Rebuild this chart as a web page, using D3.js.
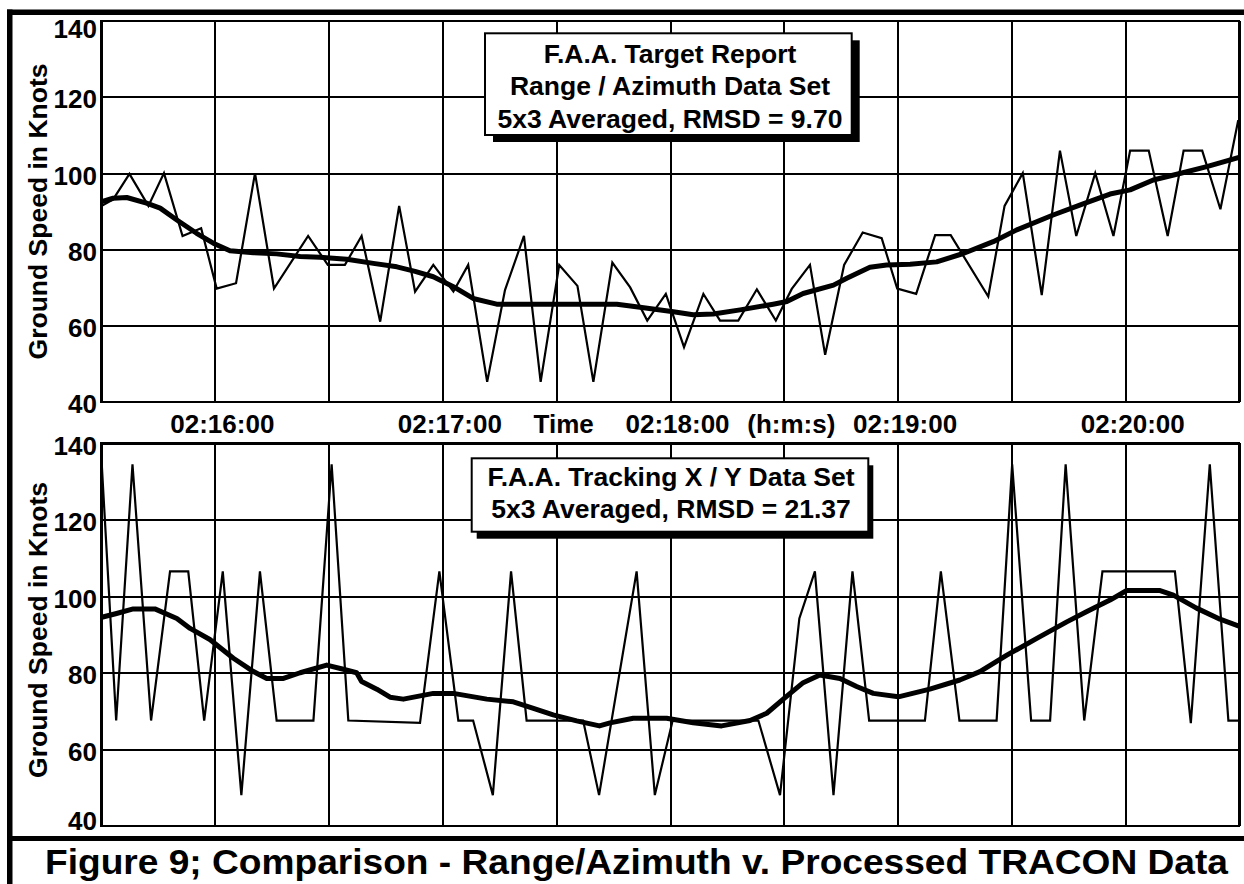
<!DOCTYPE html>
<html>
<head>
<meta charset="utf-8">
<script src="https://cdn.jsdelivr.net/npm/d3@7"></script>
<style>
  html, body { margin: 0; padding: 0; background: #fff; }
  svg { display: block; font-family: "Liberation Sans", Arial, Helvetica, sans-serif; font-weight: bold; }
</style>
</head>
<body>
<script>
// time axis: seconds after 02:15:30
const timeTicks = [0, 30, 60, 90, 120, 150, 180, 210, 240, 270, 300];
const timeLabels = ["", "02:16:00", "", "02:17:00", "Time", "02:18:00", "(h:m:s)", "02:19:00", "", "02:20:00", ""];
const speedTicks = [40, 60, 80, 100, 120, 140];

// F.A.A. target report, range / azimuth
const rangeAzTime = [0.2, 3.2, 7.5, 12.5, 16.6, 21.5, 26.4, 30.5, 35.6, 40.6, 45.6, 54.6, 59.8, 64.3, 68.7,
  73.6, 78.6, 82.8, 87.6, 92.9, 96.8, 101.8, 106.5, 111.5, 115.9, 120.8, 125.6, 129.8, 134.8, 139.5,
  144.0, 148.9, 153.7, 158.8, 163.2, 168.0, 172.9, 177.9, 182.1, 186.9, 190.9, 195.9, 200.8, 205.8, 209.9,
  214.9, 219.9, 224.0, 233.9, 238.2, 243.0, 248.0, 252.8, 257.1, 262.1, 266.9, 271.3, 276.2, 281.2, 285.4,
  290.3, 295.1, 299.8];
const rangeAzSpeed = [91.4, 93.1, 99.8, 91.4, 100, 83.5, 85.5, 69.7, 71.1, 100, 69.7, 83.5, 75.9, 75.9, 83.5,
  61, 91.4, 68.9, 75.9, 68.9, 75.9, 45.2, 69.3, 83.5, 45.2, 75.9, 70.4, 45.2, 76.5, 70,
  61.3, 68.3, 54.3, 68.3, 61.3, 61.3, 69.5, 61.3, 69.6, 75.9, 52.3, 75.9, 84.4, 82.9, 69.7,
  68.3, 83.7, 83.7, 67.6, 91.4, 100, 68, 105.9, 83.5, 100, 83.5, 105.9, 105.9, 83.5, 105.9,
  105.9, 90.5, 113.9];
const rangeAzAvgTime = [0.2, 3.2, 6.8, 12.0, 15.6, 20.0, 25.2, 29.6, 34.0, 40.2, 46.3, 52.5, 57.7, 64.8, 71.8,
  78.0, 82.8, 87.6, 92.9, 98.1, 104.3, 114.0, 126.3, 136.0, 142.1, 150.9, 156.1, 161.4, 168.5, 177.2,
  180.8, 185.1, 193.1, 196.6, 202.7, 207.1, 213.3, 220.3, 227.3, 235.2, 241.4, 251.0, 258.9, 266.0, 271.3,
  277.4, 284.4, 291.5, 300];
const rangeAzAvgSpeed = [92.5, 93.4, 93.6, 92.1, 90.8, 87.7, 84.2, 81.6, 79.6, 79.1, 78.8, 78.1, 77.9, 77.4, 76.3,
  75.4, 74.2, 72.8, 70.2, 67.1, 65.6, 65.6, 65.6, 65.6, 64.8, 63.6, 62.8, 63.0, 64.1, 65.6,
  66.3, 68.4, 70.6, 72.4, 75.3, 75.9, 76.1, 76.7, 78.9, 82, 85.1, 89, 91.9, 94.5, 95.6,
  98.2, 99.9, 101.7, 104.1];

// F.A.A. tracking X / Y
const trackTime = [0.2, 4.0, 8.3, 13.2, 18.2, 23.0, 27.2, 32.1, 37.0, 41.9, 46.3, 56.0, 60.8, 65.2, 84.1,
  89.2, 94.2, 98.1, 103.3, 108.1, 112.2, 127.1, 131.3, 141.2, 146.0, 150.7, 173.3, 179.0, 184.1, 188.2,
  193.1, 198.1, 202.5, 217.2, 221.4, 226.3, 236.1, 240.2, 245.2, 250.2, 254.3, 259.2, 264.0, 283.1, 287.3,
  292.3, 297.2, 300];
const trackSpeed = [134.5, 67.5, 134.5, 67.5, 106.5, 106.5, 67.5, 106.5, 48, 106.5, 67.5, 67.5, 134.5, 67.5, 66.9,
  106.5, 67.5, 67.5, 48, 106.5, 67.5, 67.5, 48, 106.5, 48, 67.5, 67.5, 48, 94.2, 106.5,
  48, 106.5, 67.5, 67.5, 106.5, 67.5, 67.5, 134.5, 67.5, 67.5, 134.5, 67.5, 106.5, 106.5, 66.8,
  134.5, 67.5, 67.5];
const trackAvgTime = [0.2, 4.1, 8.5, 14.2, 20.0, 23.5, 28.7, 34.9, 40.2, 43.7, 48.1, 52.5, 59.5, 63.9, 67.4,
  68.7, 72.7, 76.2, 79.7, 87.6, 92.9, 101.7, 108.7, 114.0, 119.2, 125.4, 131.4, 134.2, 140.3, 149.1,
  156.1, 163.6, 171.1, 175.5, 180.8, 185.1, 189.5, 194.8, 199.2, 203.6, 210.2, 218.5, 226.4, 231.7, 238.8,
  246.7, 254.6, 259.9, 266.0, 270.4, 279.2, 282.7, 288.8, 295.0, 300];
const trackAvgSpeed = [94.5, 95.5, 96.7, 96.7, 94.2, 91.6, 88.7, 83.8, 80.3, 78.5, 78.5, 80, 82, 80.9, 80,
  77.7, 75.7, 73.6, 73.1, 74.6, 74.6, 73.1, 72.4, 70.7, 69, 67.4, 66.1, 66.9, 68.1, 68.1,
  66.9, 66.1, 67.5, 69.4, 73.9, 77.4, 79.4, 78.5, 76.4, 74.6, 73.7, 75.7, 78.1, 80.3, 84.6,
  89, 93.3, 96, 99, 101.5, 101.5, 100.3, 96.9, 94, 92.2];

const rangeAzNote = ["F.A.A. Target Report", "Range / Azimuth Data Set", "5x3 Averaged, RMSD = 9.70"];
const trackNote = ["F.A.A. Tracking X / Y Data Set", "5x3 Averaged, RMSD = 21.37"];
const yTitle = "Ground Speed in Knots";
const caption = "Figure 9; Comparison - Range/Azimuth v. Processed TRACON Data";

const width = 1244;
const height = 884;
const marginLeft = 101;
const marginRight = 5;

const svg = d3.select("body").append("svg")
	.attr("width", width)
	.attr("height", height);

// outer frame bars
svg.append("rect").attr("x", 7).attr("y", 9.5).attr("width", width - 7).attr("height", 5.5).attr("fill", "#000");
svg.append("rect").attr("x", 7).attr("y", 9.5).attr("width", 5.5).attr("height", height).attr("fill", "#000");
svg.append("rect").attr("x", 7).attr("y", 836).attr("width", width - 7).attr("height", 5).attr("fill", "#000");

const x = d3.scaleLinear().domain([0, 300]).range([marginLeft, width - marginRight]);

const panels = [
	{
		top: 20.7, bottom: 401.7, labels: true, titleY: 211.5,
		raw: rangeAzTime.map((t, i) => [t, rangeAzSpeed[i]]),
		avg: rangeAzAvgTime.map((t, i) => [t, rangeAzAvgSpeed[i]]),
		note: rangeAzNote,
		box: { x: 485, y: 33.3, w: 366.7, h: 101.7, dx: 8, dy: 7, cx: 670, base: 62.7, lh: 32.5 }
	},
	{
		top: 443.3, bottom: 825.7, labels: false, titleY: 630,
		raw: trackTime.map((t, i) => [t, trackSpeed[i]]),
		avg: trackAvgTime.map((t, i) => [t, trackAvgSpeed[i]]),
		note: trackNote,
		box: { x: 471.7, y: 458.3, w: 396.6, h: 73.4, dx: 5, dy: 7, cx: 671, base: 486, lh: 32.3 }
	}
];

panels.forEach((p, pi) => {
	const y = d3.scaleLinear().domain([40, 140]).range([p.bottom, p.top]);
	const w = x.range()[1] - x.range()[0];
	const h = p.bottom - p.top;
	const g = svg.append("g");

	// horizontal grid + speed labels
	const gy = g.append("g")
		.attr("transform", `translate(${marginLeft},0)`)
		.call(d3.axisLeft(y).tickValues(speedTicks).tickSize(-w).tickPadding(4));
	gy.select(".domain").remove();
	gy.selectAll("line").attr("stroke", "#000").attr("stroke-width", 2).attr("shape-rendering", "crispEdges");
	gy.selectAll("text")
		.attr("fill", "#000")
		.attr("font-size", 26)
		.attr("font-weight", "bold")
		.attr("dy", d => {
			if (pi === 0 && d === 140) return 17;
			if (pi === 1 && d === 40) return 4;
			return 11;
		});

	// vertical grid + time labels
	const gx = g.append("g")
		.attr("transform", `translate(0,${p.bottom})`)
		.call(d3.axisBottom(x).tickValues(timeTicks)
			.tickFormat((d, i) => p.labels ? timeLabels[i] : "")
			.tickSize(-h).tickPadding(13));
	gx.select(".domain").remove();
	gx.selectAll("line").attr("stroke", "#000").attr("stroke-width", 2).attr("shape-rendering", "crispEdges");
	gx.selectAll("text")
		.attr("fill", "#000")
		.attr("font-size", 26)
		.attr("font-weight", "bold")
		.attr("x", 7);

	// plot frame
	g.append("rect")
		.attr("x", marginLeft).attr("y", p.top)
		.attr("width", w).attr("height", h)
		.attr("fill", "none").attr("stroke", "#000").attr("stroke-width", 2)
		.attr("shape-rendering", "crispEdges");

	g.append("clipPath").attr("id", "clip" + pi)
		.append("rect").attr("x", marginLeft).attr("y", p.top).attr("width", w).attr("height", h);

	const line = d3.line().x(d => x(d[0])).y(d => y(d[1]));

	g.append("path")
		.datum(p.raw)
		.attr("clip-path", `url(#clip${pi})`)
		.attr("d", line)
		.attr("fill", "none")
		.attr("stroke", "#000")
		.attr("stroke-width", 2.2);

	g.append("path")
		.datum(p.avg)
		.attr("clip-path", `url(#clip${pi})`)
		.attr("d", line)
		.attr("fill", "none")
		.attr("stroke", "#000")
		.attr("stroke-width", 5)
		.attr("stroke-linejoin", "round");

	// note box with drop shadow
	const b = p.box;
	g.append("rect")
		.attr("x", b.x + b.dx).attr("y", b.y + b.dy)
		.attr("width", b.w).attr("height", b.h)
		.attr("fill", "#000");
	g.append("rect")
		.attr("x", b.x).attr("y", b.y)
		.attr("width", b.w).attr("height", b.h)
		.attr("fill", "#fff").attr("stroke", "#000").attr("stroke-width", 2);
	g.selectAll(".note")
		.data(p.note)
		.join("text")
		.attr("class", "note")
		.attr("x", b.cx)
		.attr("y", (d, i) => b.base + i * b.lh)
		.attr("text-anchor", "middle")
		.attr("font-size", 26.5)
		.text(d => d);

	// y axis title
	g.append("text")
		.attr("transform", `translate(47,${p.titleY}) rotate(-90)`)
		.attr("text-anchor", "middle")
		.attr("font-size", 26.5)
		.text(yTitle);
});

svg.append("text")
	.attr("x", 636.5)
	.attr("y", 873.5)
	.attr("text-anchor", "middle")
	.attr("font-size", 35)
	.attr("textLength", 1183)
	.attr("lengthAdjust", "spacingAndGlyphs")
	.text(caption);
</script>
</body>
</html>
